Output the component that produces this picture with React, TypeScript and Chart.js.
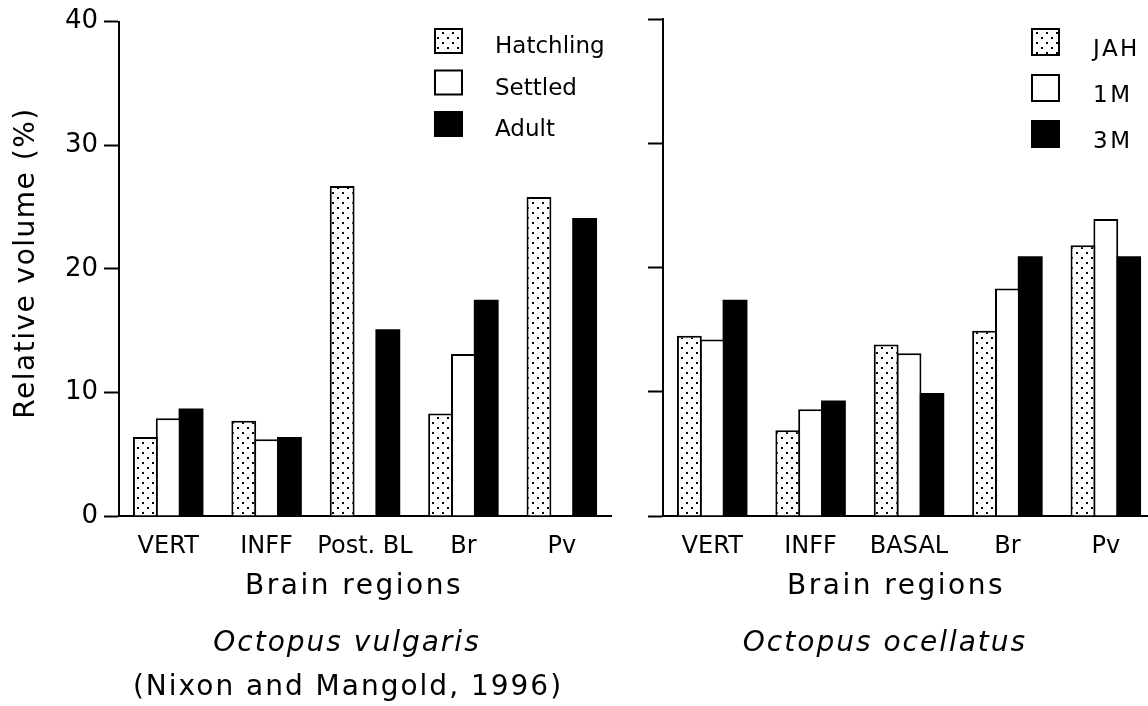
import React, { useEffect, useRef } from 'react';
import { Chart, registerables } from 'chart.js';

Chart.register(...registerables);

// ---------- data ----------
const leftCategories = ['VERT', 'INFF', 'Post. BL', 'Br', 'Pv'];
const hatchling = [6.4, 7.7, 26.7, 8.3, 25.8];
const settled = [7.9, 6.2, null, 13.1, null];
const adult = [8.7, 6.4, 15.1, 17.5, 24.1];

const rightCategories = ['VERT', 'INFF', 'BASAL', 'Br', 'Pv'];
const jah = [14.5, 6.9, 13.8, 14.9, 21.8];
const oneM = [14.2, 8.6, 13.1, 18.3, 23.9];
const threeM = [17.4, 9.3, 9.9, 20.9, 20.9];

const leftSeriesNames = ['Hatchling', 'Settled', 'Adult'];
const rightSeriesNames = ['JAH', '1M', '3M'];
const yTicks = [0, 10, 20, 30, 40];

const FAMILY = "'DejaVu Sans', Verdana, sans-serif";

function makeDots(ctx: CanvasRenderingContext2D) {
  const c = document.createElement('canvas');
  c.width = 10;
  c.height = 10;
  const g = c.getContext('2d')!;
  g.fillStyle = '#fff';
  g.fillRect(0, 0, 10, 10);
  g.fillStyle = '#000';
  g.fillRect(2, 2, 2, 2);
  g.fillRect(7, 7, 2, 2);
  return ctx.createPattern(c, 'repeat');
}

type Caption = { text: string; x: number; y: number; font: string; spacing: number; rotate?: boolean };

function captionPlugin(items: Caption[]) {
  return {
    id: 'captions',
    afterDraw(chart: any) {
      const ctx = chart.ctx as any;
      items.forEach((it) => {
        ctx.save();
        ctx.font = it.font;
        ctx.fillStyle = '#000';
        ctx.textAlign = 'center';
        ctx.textBaseline = 'alphabetic';
        ctx.letterSpacing = it.spacing + 'px';
        if (it.rotate) {
          ctx.translate(it.x, it.y);
          ctx.rotate(-Math.PI / 2);
          ctx.fillText(it.text, 0, 0);
        } else {
          ctx.fillText(it.text, it.x, it.y);
        }
        ctx.restore();
      });
    },
  };
}

type LegendOpts = { x: number; y: number; w: number; h: number; gap: number; textX: number; shift: number; font: string; spacing: number };

function legendPlugin(o: LegendOpts) {
  return {
    id: 'boxLegend',
    afterDraw(chart: any) {
      const ctx = chart.ctx as any;
      ctx.save();
      chart.data.datasets.forEach((ds: any, i: number) => {
        const y = o.y + i * o.gap;
        ctx.fillStyle = '#000';
        ctx.fillRect(o.x, y, o.w, o.h);
        ctx.fillStyle = ds.backgroundColor;
        if (ds.backgroundColor !== '#000') ctx.fillRect(o.x + 2, y + 2, o.w - 4, o.h - 4);
        ctx.fillStyle = '#000';
        ctx.font = o.font;
        ctx.letterSpacing = o.spacing + 'px';
        ctx.textAlign = 'left';
        ctx.textBaseline = 'alphabetic';
        ctx.fillText(ds.label, o.textX, y + o.h / 2 + o.shift);
      });
      ctx.restore();
    },
  };
}

function buildChart(
  canvas: HTMLCanvasElement,
  labels: string[],
  names: string[],
  series: (number | null)[][],
  showYLabels: boolean,
  captions: Caption[],
  legend: LegendOpts
) {
  const ctx = canvas.getContext('2d')!;
  const dots = makeDots(ctx);
  const fills = [dots, '#fff', '#000'];
  return new Chart(ctx, {
    type: 'bar',
    data: {
      labels,
      datasets: series.map((data, i) => ({
        label: names[i],
        data,
        backgroundColor: fills[i] as any,
        borderColor: '#000',
        borderWidth: i === 2 ? 0 : 2,
        borderSkipped: 'start',
        categoryPercentage: 0.696,
        barPercentage: 1.0876,
      })),
    },
    options: {
      responsive: false,
      animation: false,
      devicePixelRatio: 1,
      layout: { padding: { left: 0, top: 19, right: 9, bottom: 130 } },
      plugins: {
        legend: { display: false },
        tooltip: { enabled: false },
        title: { display: false },
      },
      scales: {
        x: {
          type: 'category',
          ticks: { font: { family: FAMILY, size: 24 }, color: '#000', padding: 16, maxRotation: 0, autoSkip: false },
          grid: { display: true, drawOnChartArea: false, drawTicks: false },
          border: { display: true, color: '#000', width: 2 },
          afterFit: (s: any) => {
            s.height = 60;
          },
        },
        y: {
          type: 'linear',
          min: yTicks[0],
          max: yTicks[yTicks.length - 1],
          afterBuildTicks: (s: any) => {
            s.ticks = yTicks.map((v) => ({ value: v }));
          },
          ticks: { display: showYLabels, font: { family: FAMILY, size: 26 }, color: '#000', padding: 6 },
          grid: { drawOnChartArea: false, drawTicks: true, tickLength: 15, tickWidth: 2, tickColor: '#000', color: '#000' },
          border: { display: true, color: '#000', width: 2 },
          afterFit: (s: any) => {
            s.width = 119;
          },
        },
      },
    },
    plugins: [captionPlugin(captions), legendPlugin(legend)],
  } as any);
}

export default function App() {
  const leftRef = useRef<HTMLCanvasElement>(null);
  const rightRef = useRef<HTMLCanvasElement>(null);

  useEffect(() => {
    const titleFont = `28px ${FAMILY}`;
    const italicFont = `italic 28px ${FAMILY}`;
    const legendFont = `23px ${FAMILY}`;
    const left = buildChart(
      leftRef.current!,
      leftCategories,
      leftSeriesNames,
      [hatchling, settled, adult],
      true,
      [
        { text: 'Relative volume (%)', x: 34, y: 263, font: titleFont, spacing: 1.5, rotate: true },
        { text: 'Brain regions', x: 354, y: 594, font: titleFont, spacing: 2.5 },
        { text: 'Octopus vulgaris', x: 347, y: 651, font: italicFont, spacing: 2 },
        { text: '(Nixon and Mangold, 1996)', x: 348, y: 695, font: titleFont, spacing: 2 },
      ],
      { x: 434, y: 28, w: 29, h: 26, gap: 41.5, textX: 495, shift: 12, font: legendFont, spacing: 0 }
    );
    const right = buildChart(
      rightRef.current!,
      rightCategories,
      rightSeriesNames,
      [jah, oneM, threeM],
      false,
      [
        { text: 'Brain regions', x: 352, y: 594, font: titleFont, spacing: 2.5 },
        { text: 'Octopus ocellatus', x: 341, y: 651, font: italicFont, spacing: 2 },
      ],
      { x: 487, y: 28, w: 29, h: 28, gap: 46, textX: 549, shift: 14, font: legendFont, spacing: 2.5 }
    );
    return () => {
      left.destroy();
      right.destroy();
    };
  }, []);

  return (
    <div
      style={{
        position: 'fixed',
        left: 0,
        top: 0,
        width: 1148,
        height: 706,
        overflow: 'hidden',
        background: '#fff',
      }}
    >
      <canvas
        ref={leftRef}
        width={620}
        height={706}
        style={{ position: 'absolute', left: 0, top: 0, width: 620, height: 706 }}
      />
      <canvas
        ref={rightRef}
        width={620}
        height={706}
        style={{ position: 'absolute', left: 544, top: 0, width: 620, height: 706 }}
      />
    </div>
  );
}
